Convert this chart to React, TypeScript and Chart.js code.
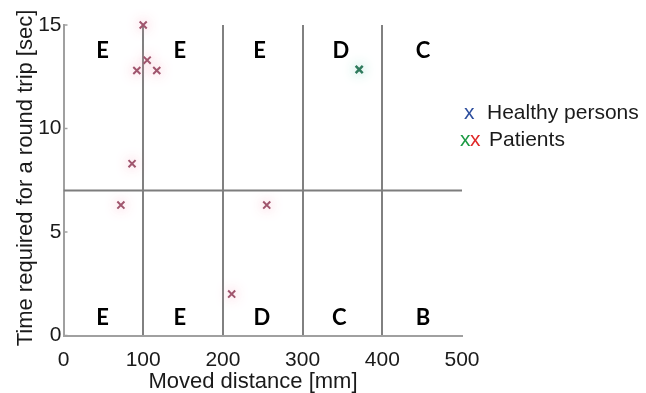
import React, { useEffect, useRef } from "react";
import { Chart, registerables } from "chart.js";

Chart.register(...registerables);

// Patients (red markers): moved distance [mm] and round-trip time [sec]
const patientRedDistance = [100, 92, 105, 117, 86, 72, 255, 211];
const patientRedTime = [15, 12.8, 13.3, 12.8, 8.3, 6.3, 6.3, 2.0];

// Patients (green markers)
const patientGreenDistance = [371];
const patientGreenTime = [12.85];

// Healthy persons (none plotted in this view)
const healthyDistance: number[] = [];
const healthyTime: number[] = [];

// Grade boundaries
const distanceBoundaries = [100, 200, 300, 400];
const timeThreshold = 7;

// Axis ranges / ticks
const distanceTicks = [0, 100, 200, 300, 400, 500];
const timeTicks = [0, 5, 10, 15];

// Grade letters in each region
const upperGrades = ["E", "E", "E", "D", "C"];
const upperGradeDistance = [49, 146, 246, 348, 451];
const upperGradeTime = 13.75;
const lowerGrades = ["E", "E", "D", "C", "B"];
const lowerGradeDistance = [49, 146, 249, 346, 451];
const lowerGradeTime = 0.84;

const SANS = "'Liberation Sans', Arial, sans-serif";
const GRADE_FONT = "bold 22px Lato, 'Open Sans', sans-serif";

const toPoints = (xs: number[], ys: number[]) => xs.map((x, i) => ({ x, y: ys[i] }));

const annotations = {
  id: "gradeAnnotations",
  afterDraw(chart: any) {
    const { ctx, scales } = chart;
    const xs = scales.x;
    const ys = scales.y;
    ctx.save();

    // Small inward tick marks on the time axis
    ctx.strokeStyle = "#a0a0a0";
    ctx.lineWidth = 1.5;
    timeTicks.forEach((t) => {
      const py = ys.getPixelForValue(t);
      ctx.beginPath();
      ctx.moveTo(xs.left, py);
      ctx.lineTo(xs.left + 4, py);
      ctx.stroke();
    });

    // Grade letters
    ctx.fillStyle = "#000";
    ctx.font = GRADE_FONT;
    ctx.textAlign = "center";
    ctx.textBaseline = "middle";
    upperGrades.forEach((g, i) => {
      ctx.fillText(g, xs.getPixelForValue(upperGradeDistance[i]), ys.getPixelForValue(upperGradeTime));
    });
    lowerGrades.forEach((g, i) => {
      ctx.fillText(g, xs.getPixelForValue(lowerGradeDistance[i]), ys.getPixelForValue(lowerGradeTime));
    });

    // Axis titles
    ctx.fillStyle = "#1a1a1a";
    ctx.font = `22px ${SANS}`;
    ctx.textBaseline = "alphabetic";
    ctx.textAlign = "center";
    ctx.fillText("Moved distance [mm]", 253, 388);

    ctx.save();
    ctx.translate(32, 178);
    ctx.rotate(-Math.PI / 2);
    ctx.fillText("Time required for a round trip [sec]", 0, 0);
    ctx.restore();

    // Legend
    ctx.textAlign = "left";
    ctx.font = `21px ${SANS}`;
    ctx.fillStyle = "#2e4f9e";
    ctx.fillText("x", 464, 119);
    ctx.fillStyle = "#1a1a1a";
    ctx.fillText("Healthy persons", 487, 119);

    ctx.fillStyle = "#1c9a44";
    ctx.fillText("x", 460, 146);
    ctx.fillStyle = "#e02828";
    ctx.fillText("x", 470, 146);
    ctx.fillStyle = "#1a1a1a";
    ctx.fillText("Patients", 489, 146);

    ctx.restore();
  },
};

const markerHaze = {
  id: "markerHaze",
  beforeDatasetDraw(chart: any, args: any) {
    const ds = chart.data.datasets[args.index];
    if (!ds.haze) return;
    chart.ctx.save();
    chart.ctx.shadowColor = ds.haze;
    chart.ctx.shadowBlur = 12;
  },
  afterDatasetDraw(chart: any, args: any) {
    const ds = chart.data.datasets[args.index];
    if (!ds.haze) return;
    chart.ctx.restore();
  },
};

export default function App() {
  const canvasRef = useRef<HTMLCanvasElement | null>(null);

  useEffect(() => {
    if (!canvasRef.current) return;
    const chart = new Chart(canvasRef.current, {
      type: "scatter",
      data: {
        datasets: [
          {
            label: "Time threshold",
            data: [
              { x: distanceTicks[0], y: timeThreshold },
              { x: distanceTicks[distanceTicks.length - 1], y: timeThreshold },
            ],
            showLine: true,
            borderColor: "#7d7d7d",
            borderWidth: 2,
            pointRadius: 0,
          },
          {
            label: "Healthy persons",
            data: toPoints(healthyDistance, healthyTime),
            pointStyle: "crossRot",
            pointRadius: 5,
            borderColor: "#2e4f9e",
            borderWidth: 2,
          },
          {
            label: "Patients",
            data: toPoints(patientRedDistance, patientRedTime),
            pointStyle: "crossRot",
            pointRadius: 5,
            borderColor: "#a0566e",
            borderWidth: 2,
            clip: false,
            haze: "rgba(245,140,170,0.85)",
          } as any,
          {
            label: "Patients (green)",
            data: toPoints(patientGreenDistance, patientGreenTime),
            pointStyle: "crossRot",
            pointRadius: 5,
            borderColor: "#2f7a5c",
            borderWidth: 2.5,
            clip: false,
            haze: "rgba(110,210,185,0.9)",
          } as any,
        ],
      },
      options: {
        animation: false,
        responsive: true,
        maintainAspectRatio: false,
        layout: { padding: { top: 25, right: 184, left: 0, bottom: 0 } },
        plugins: {
          legend: { display: false },
          tooltip: { enabled: false },
        },
        scales: {
          x: {
            type: "linear",
            min: distanceTicks[0],
            max: distanceTicks[distanceTicks.length - 1],
            afterBuildTicks: (scale: any) => {
              scale.ticks = distanceTicks.map((v) => ({ value: v }));
            },
            afterFit: (scale: any) => {
              scale.height = 57.5;
            },
            grid: {
              drawTicks: false,
              lineWidth: 2,
              color: (c: any) =>
                distanceBoundaries.includes(c.tick?.value) ? "#818181" : "rgba(0,0,0,0)",
            },
            border: { display: true, color: "#a0a0a0", width: 2 },
            ticks: {
              padding: 12,
              color: "#1a1a1a",
              font: { family: SANS, size: 21 },
              maxRotation: 0,
            },
          },
          y: {
            type: "linear",
            min: timeTicks[0],
            max: timeTicks[timeTicks.length - 1],
            afterBuildTicks: (scale: any) => {
              scale.ticks = timeTicks.map((v) => ({ value: v }));
            },
            afterFit: (scale: any) => {
              scale.width = 63.5;
            },
            grid: { display: true, drawOnChartArea: false, drawTicks: false },
            border: { display: true, color: "#a0a0a0", width: 2 },
            ticks: {
              padding: 2,
              color: "#1a1a1a",
              font: { family: SANS, size: 21 },
            },
          },
        },
      },
      plugins: [markerHaze, annotations],
    });
    return () => chart.destroy();
  }, []);

  return (
    <div style={{ position: "absolute", left: 0, top: 0, width: 646, height: 393, background: "#fff" }}>
      <canvas ref={canvasRef} />
    </div>
  );
}
